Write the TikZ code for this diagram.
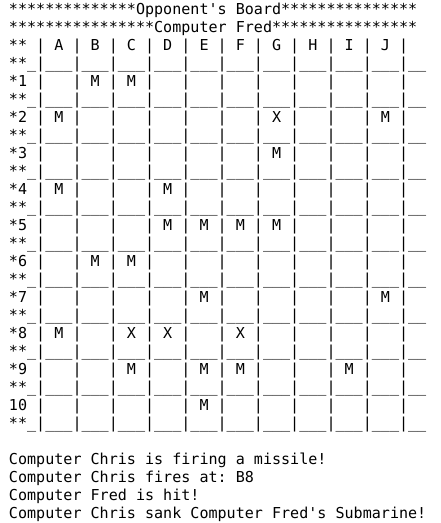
\documentclass[tikz,border=0pt]{standalone}
\usepackage{fontspec}
\newfontfamily\mono{DejaVu Sans Mono}
\newcommand\bsE{~~~|}
\newcommand\bsM{~M~|}
\newcommand\bsX{~X~|}
\newcommand\bsSep{**\_|\_\_\_|\_\_\_|\_\_\_|\_\_\_|\_\_\_|\_\_\_|\_\_\_|\_\_\_|\_\_\_|\_\_\_|\_\_}
\tikzset{txt/.style={anchor=base west, inner sep=0pt, outer sep=0pt, font=\mono\fontsize{15.07}{18}\selectfont}}
\begin{document}
\begin{tikzpicture}[x=1pt,y=-1pt]
\useasboundingbox[fill=white] (0,0) rectangle (441,523);
\def\lx{9}
\node[txt] (l0) at (\lx,14) {**************Opponent\textquotesingle s~Board***************};
\node[txt] (l1) at (\lx,32) {****************Computer~Fred****************};
\node[txt] (l2) at (\lx,50) {**~|~A~|~B~|~C~|~D~|~E~|~F~|~G~|~H~|~I~|~J~|};
\node[txt] (l3) at (\lx,68) {\bsSep};
\node[txt] (l4) at (\lx,86) {*1~|\bsE\bsM\bsM\bsE\bsE\bsE\bsE\bsE\bsE\bsE};
\node[txt] (l5) at (\lx,104) {\bsSep};
\node[txt] (l6) at (\lx,122) {*2~|\bsM\bsE\bsE\bsE\bsE\bsE\bsX\bsE\bsE\bsM};
\node[txt] (l7) at (\lx,140) {\bsSep};
\node[txt] (l8) at (\lx,158) {*3~|\bsE\bsE\bsE\bsE\bsE\bsE\bsM\bsE\bsE\bsE};
\node[txt] (l9) at (\lx,176) {\bsSep};
\node[txt] (l10) at (\lx,194) {*4~|\bsM\bsE\bsE\bsM\bsE\bsE\bsE\bsE\bsE\bsE};
\node[txt] (l11) at (\lx,212) {\bsSep};
\node[txt] (l12) at (\lx,230) {*5~|\bsE\bsE\bsE\bsM\bsM\bsM\bsM\bsE\bsE\bsE};
\node[txt] (l13) at (\lx,248) {\bsSep};
\node[txt] (l14) at (\lx,266) {*6~|\bsE\bsM\bsM\bsE\bsE\bsE\bsE\bsE\bsE\bsE};
\node[txt] (l15) at (\lx,284) {\bsSep};
\node[txt] (l16) at (\lx,302) {*7~|\bsE\bsE\bsE\bsE\bsM\bsE\bsE\bsE\bsE\bsM};
\node[txt] (l17) at (\lx,320) {\bsSep};
\node[txt] (l18) at (\lx,338) {*8~|\bsM\bsE\bsX\bsX\bsE\bsX\bsE\bsE\bsE\bsE};
\node[txt] (l19) at (\lx,356) {\bsSep};
\node[txt] (l20) at (\lx,374) {*9~|\bsE\bsE\bsM\bsE\bsM\bsM\bsE\bsE\bsM\bsE};
\node[txt] (l21) at (\lx,392) {\bsSep};
\node[txt] (l22) at (\lx,410) {10~|\bsE\bsE\bsE\bsE\bsM\bsE\bsE\bsE\bsE\bsE};
\node[txt] (l23) at (\lx,428) {\bsSep};
\node[txt] (m1) at (\lx,464) {Computer~Chris~is~firing~a~missile!};
\node[txt] (m2) at (\lx,482) {Computer~Chris~fires~at:~B8};
\node[txt] (m3) at (\lx,500) {Computer~Fred~is~hit!};
\node[txt] (m4) at (\lx,518) {Computer~Chris~sank~Computer~Fred\textquotesingle s~Submarine!};
\end{tikzpicture}
\end{document}
